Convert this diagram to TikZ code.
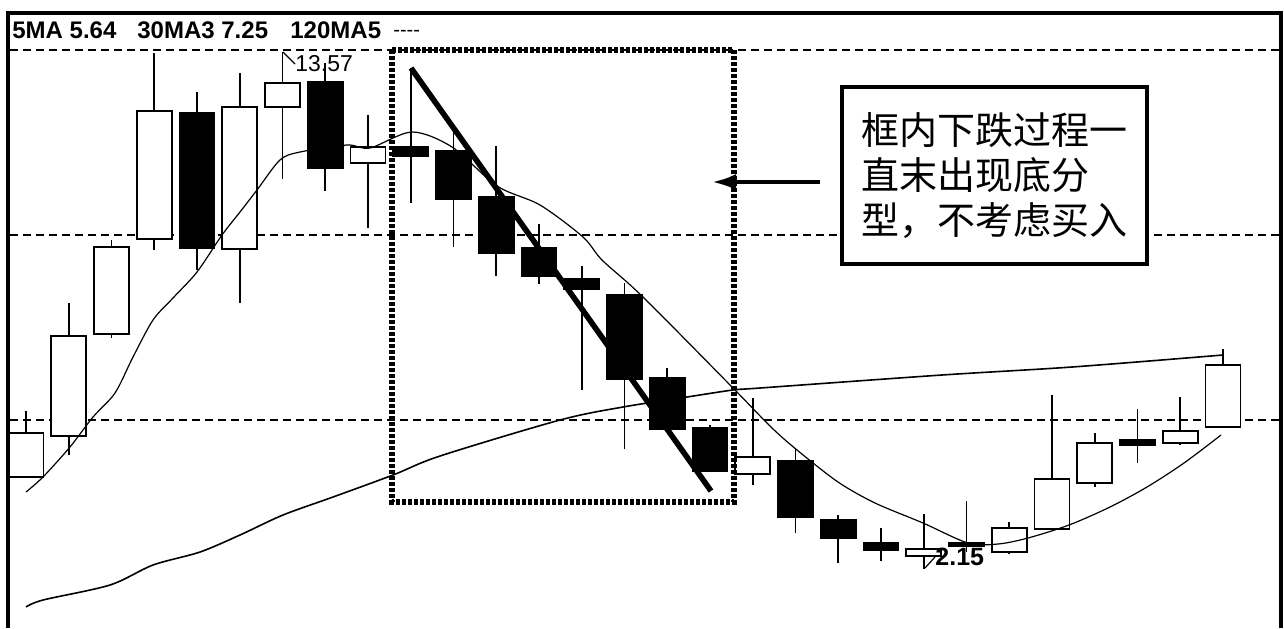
\documentclass[tikz,border=0pt]{standalone}
\usepackage{fontspec}
\setmainfont{Liberation Sans}
\newfontfamily\cjk{Noto Sans CJK SC}
\usetikzlibrary{arrows.meta,positioning,calc}

\begin{document}
\begin{tikzpicture}[x = .5pt, y = -.5pt,
    grid/.style = {dash pattern = on 4pt off 2.5pt, line width = .6pt},
    wick/.style = {line width = .9pt},
    candle/.style = {draw, line width = .9pt},
    ma/.style = {line width = .6pt, smooth, tension = .5},
    header/.style = {anchor = base west, inner sep = 0pt, font = \bfseries\fontsize{12}{14}\selectfont}]
  \useasboundingbox (0,0) rectangle (1284,628);
  % grid
  \foreach \gy in {50, 235, 420}
    \draw[grid] (10,\gy) -- (1279,\gy);
  % candles: wick top / wick bottom / body top / body bottom / fill
  \foreach \wt/\wb/\bt/\bb/\kf [count = \i from 0] in {
      411/477/433/477/white, 303/455/336/436/white, 240/338/247/334/white,
      53/250/111/239/white, 92/270/113/248/black, 73/303/107/249/white,
      52/179/83/107/white, 63/191/82/168/black, 115/228/147/163/white,
      68/203/147/156/black, 130/247/151/199/black, 146/276/197/253/black,
      224/284/248/276/black, 266/390/279/289/black, 283/449/295/379/black,
      368/429/378/429/black, 425/471/428/471/black, 398/485/457/474/white,
      449/533/461/517/black, 515/563/520/538/black, 528/561/543/550/black,
      514/569/549/556/white, 501/552/543/546/black, 522/554/528/552/white,
      395/529/479/529/white, 433/487/443/483/white, 409/463/440/445/black,
      397/445/431/443/white, 349/427/365/427/white} {
    \pgfmathsetmacro{\cx}{26 + 42.75*\i}
    \draw[wick] (\cx,\wt) -- (\cx,\wb);
    \draw[candle, fill = \kf] (\cx-17.5,\bt) rectangle (\cx+17.5,\bb);
  }
  % moving averages
  \draw[ma, line width = .8pt] plot coordinates {(26,607) (43,600) (110,585) (153,565) (200,552)
    (240,535) (283,515) (333,497) (393,475) (440,456) (560,420) (623,407) (687,397)
    (733,390) (760,388) (942,375) (1072,367) (1223,355)};
  \draw[wick] (1223,349) -- (1223,365);
  \draw[ma] plot coordinates {(26,492) (43,477) (70,447) (93,417) (115,393) (133,357)
    (153,320) (173,298) (197,272) (222,235) (240,212) (257,190) (280,160) (300,152)
    (347,145) (370,148) (412,132) (452,147) (497,186) (540,205) (583,237) (602,260)
    (643,297) (733,388) (771,427) (797,450) (838,482) (875,503) (923,523) (968,543)
    (998,544) (1028,538) (1069,525) (1110,507) (1147,487) (1184,463) (1221,435)};
  % falling segment
  \draw[line width = 2.8pt, dash pattern = on 2pt off 1pt] (392,50) rectangle (734,502);
  \coordinate (fallstart) at (411,68);
  \coordinate (fallend) at (711,491);
  \draw[line width = 2.8pt] (fallstart) -- (fallend);
  % high / low labels
  \coordinate (hightip) at (283,52);
  \node[anchor = west, inner sep = 0pt, font = \fontsize{11.5}{13}\selectfont] (highlabel) at (295,64) {13.57};
  \draw[line width = .6pt] (hightip) -- (highlabel.west);
  \coordinate (lowtip) at (925,568);
  \node[anchor = west, inner sep = 0pt, font = \bfseries\fontsize{12.5}{14}\selectfont] (lowlabel) at (935,557) {2.15};
  \draw[line width = .6pt] (lowtip) -- (lowlabel.west);
  % header
  \node[header] (ma5) at (12,38) {5MA 5.64};
  \node[header] (ma30) at (137,38) {30MA3 7.25};
  \node[header] (ma120) at (290,38) {120MA5};
  \node[header, font = \fontsize{10}{12}\selectfont] (ma120val) at (393,36) {{-}{-}{-}{-}};
  % note
  \node[draw, line width = 2pt, fill = white, minimum width = 152.5pt, minimum height = 88.5pt,
    inner sep = 0pt, align = left, font = \cjk\fontsize{19}{22.5}\selectfont] (note) at (994.5,175.5)
    {框内下跌过程一\\直末出现底分\\型，不考虑买入};
  \coordinate (arrowtail) at (820,182);
  \coordinate (arrowhead) at (712,182);
  \draw[-{Latex[length = 12pt, width = 8pt]}, line width = 2pt] (arrowtail) -- (arrowhead);
  % frame
  \draw[line width = 2pt] (8,628) -- (8,13) -- (1281,13) -- (1281,628);
\end{tikzpicture}
\end{document}
